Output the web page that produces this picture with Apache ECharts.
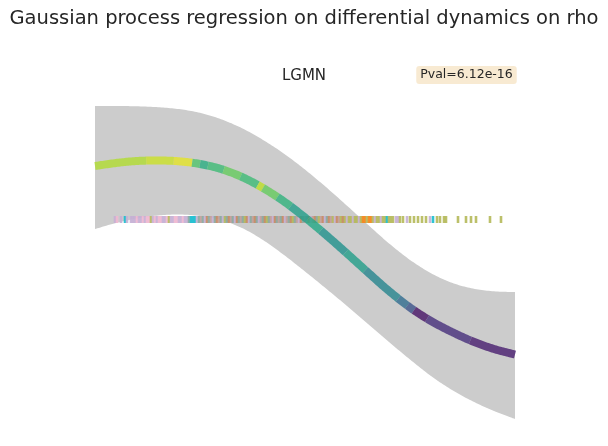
<!DOCTYPE html>
<html>
<head>
<meta charset="utf-8">
<script src="https://cdn.jsdelivr.net/npm/echarts@6/dist/echarts.min.js"></script>
<style>
  html, body { margin: 0; padding: 0; background: #fff; }
  #chart { width: 608px; height: 446px; }
</style>
</head>
<body>
<div id="chart"></div>
<script>
// pseudotime grid where the GP fit was sampled
const fitT = [0, 2.1, 4.2, 6.3, 8.4, 10.5, 12.6, 14.7, 16.8, 18.9, 21, 23.1, 25.2, 27.3, 29.4, 31.5, 33.6, 35.7, 37.8, 39.9, 42]
const fitMean = [1.24, 1.27, 1.29, 1.295, 1.287, 1.26, 1.21, 1.13, 1.02, 0.885, 0.725, 0.55, 0.365, 0.175, -0.01, -0.175, -0.31, -0.42, -0.515, -0.59, -0.645]
const fitUpper = [1.84, 1.84, 1.837, 1.828, 1.809, 1.772, 1.708, 1.618, 1.501, 1.363, 1.204, 1.029, 0.843, 0.652, 0.466, 0.301, 0.168, 0.072, 0.014, -0.013, -0.021]
const fitLower = [0.61, 0.67, 0.715, 0.745, 0.755, 0.74, 0.70, 0.62, 0.50, 0.35, 0.185, 0.015, -0.16, -0.34, -0.52, -0.695, -0.86, -1.0, -1.115, -1.21, -1.29]

// colour of the fitted curve along pseudotime (scaled value 0..1, viridis)
const segBreaks = [0, 5.0, 7.8, 9.7, 10.5, 11.2, 12.8, 14.5, 16.2, 16.8, 18.2, 19.5, 21.2, 22.5, 25.0, 27.0, 30.2, 31.2, 31.8, 33.2, 37.5, 42]
const segValues = [0.88, 0.92, 0.96, 0.72, 0.62, 0.68, 0.76, 0.68, 0.9, 0.76, 0.64, 0.55, 0.6, 0.5, 0.55, 0.45, 0.35, 0.25, 0.05, 0.13, 0.08]

// cells: pseudotime and cluster
const rugLevel = 0.705
const clusterColors = ['#c5b0d5', '#f0b8d0', '#17becf', '#b5b95a', '#f5851a', '#c4a09a', '#88aaa0', '#c98a62']
const rugT = [
  2.0, 2.2, 2.6, 3.0, 3.2, 3.6, 3.8, 4.0, 4.2, 4.4, 4.6, 4.8, 5.0, 5.2, 5.4, 5.6, 5.8, 6.0, 6.2, 6.4,
  6.6, 6.8, 7.0, 7.2, 7.4, 7.6, 7.8, 8.0, 8.2, 8.4, 8.6, 8.8, 9.0, 9.2, 9.4, 9.6, 9.8, 10.0, 10.2, 10.4,
  10.6, 10.8, 11.0, 11.2, 11.4, 11.6, 11.8, 12.0, 12.2, 12.4, 12.6, 12.8, 13.0, 13.2, 13.4, 13.6, 13.8, 14.0, 14.2, 14.4,
  14.6, 14.8, 15.0, 15.2, 15.4, 15.6, 15.8, 16.0, 16.2, 16.4, 16.6, 16.8, 17.0, 17.2, 17.4, 17.6, 17.8, 18.0, 18.2, 18.4,
  18.6, 18.8, 19.0, 19.2, 19.4, 19.6, 19.8, 20.0, 20.2, 20.4, 20.6, 20.8, 21.0, 21.2, 21.4, 21.6, 21.8, 22.0, 22.2, 22.4,
  22.6, 22.8, 23.0, 23.2, 23.4, 23.6, 23.8, 24.0, 24.2, 24.4, 24.6, 24.8, 25.0, 25.2, 25.4, 25.6, 25.8, 26.0,
  26.2, 26.4, 26.6, 26.8, 27.0, 27.2, 27.4, 27.6, 27.8, 28.0, 28.2, 28.4, 28.6, 28.8, 29.0, 29.2, 29.4, 29.6, 29.8,
  30.1, 30.3, 30.5, 30.8, 31.2, 31.5, 31.9, 32.3, 32.7, 33.1, 33.5, 33.8, 34.2, 34.5, 34.9, 35.1, 36.3, 37.1, 37.6, 38.1, 39.5, 40.6
]
const rugType = [
  0, 1, 0, 2, 0, 0, 0, 0, 1, 0, 0, 1, 0, 1, 1, 3, 0, 1, 0, 1,
  1, 0, 0, 1, 3, 0, 0, 1, 1, 0, 0, 1, 0, 0, 6, 2, 2, 2, 0, 6,
  5, 6, 0, 7, 6, 5, 0, 6, 7, 5, 6, 0, 3, 6, 7, 5, 6, 0, 7, 6,
  5, 6, 3, 7, 0, 6, 5, 7, 6, 0, 5, 6, 7, 3, 6, 5, 0, 7, 6, 5,
  6, 7, 0, 5, 6, 7, 3, 6, 5, 0, 7, 6, 5, 6, 7, 0, 5, 7, 6, 3,
  5, 7, 0, 6, 7, 5, 3, 0, 7, 5, 3, 7, 3, 0, 3, 3, 0, 3,
  3, 0, 3, 4, 4, 3, 4, 4, 3, 0, 3, 3, 0, 3, 3, 2, 3, 3, 3,
  0, 0, 3, 3, 0, 3, 3, 3, 3, 3, 0, 2, 3, 3, 3, 3, 3, 3, 3, 3, 3, 3
]

const viridis = ['#440154', '#482475', '#414487', '#355f8d', '#2a788e', '#21918c', '#22a884', '#44bf70', '#7ad151', '#bddf26', '#fde725']
function cmap(v) {
  const p = Math.max(0, Math.min(1, v)) * (viridis.length - 1)
  const i = Math.min(Math.floor(p), viridis.length - 2)
  const f = p - i
  const a = viridis[i], b = viridis[i + 1]
  const ch = k => Math.round(parseInt(a.substr(k, 2), 16) * (1 - f) + parseInt(b.substr(k, 2), 16) * f)
  return 'rgb(' + ch(1) + ',' + ch(3) + ',' + ch(5) + ')'
}

// Catmull-Rom path through the fitted points (drawing only)
function spline(xs, ys, steps) {
  const out = []
  const n = xs.length
  for (let i = 0; i < n - 1; i++) {
    const i0 = Math.max(i - 1, 0), i3 = Math.min(i + 2, n - 1)
    for (let s = 0; s < steps; s++) {
      const u = s / steps, u2 = u * u, u3 = u2 * u
      const f = (p0, p1, p2, p3) => 0.5 * (2 * p1 + (-p0 + p2) * u + (2 * p0 - 5 * p1 + 4 * p2 - p3) * u2 + (-p0 + 3 * p1 - 3 * p2 + p3) * u3)
      out.push([f(xs[i0], xs[i], xs[i + 1], xs[i3]), f(ys[i0], ys[i], ys[i + 1], ys[i3])])
    }
  }
  out.push([xs[n - 1], ys[n - 1]])
  return out
}

function segIndex(t) {
  for (let i = 0; i < segValues.length; i++) if (t < segBreaks[i + 1]) return i
  return segValues.length - 1
}

const chart = echarts.init(document.getElementById('chart'))
const font = '"DejaVu Sans", sans-serif'

chart.setOption({
  animation: false,
  grid: { left: 95, right: 93, top: 100, bottom: 21 },
  xAxis: { type: 'value', min: 0, max: 42, show: false },
  yAxis: { type: 'value', min: -1.35, max: 1.9, show: false },
  series: [
    {
      // confidence band
      type: 'custom',
      z: 1,
      silent: true,
      data: [0],
      renderItem: (params, api) => {
        const up = spline(fitT, fitUpper, 12).map(p => api.coord(p))
        const lo = spline(fitT, fitLower, 12).map(p => api.coord(p)).reverse()
        return { type: 'polygon', shape: { points: up.concat(lo) }, style: { fill: '#cccccc' } }
      }
    },
    {
      // cells along pseudotime
      type: 'custom',
      z: 2,
      silent: true,
      data: rugT.map((t, i) => [t, rugLevel, rugType[i]]),
      renderItem: (params, api) => {
        const c = api.coord([api.value(0), api.value(1)])
        return {
          type: 'rect',
          shape: { x: c[0] - 1.3, y: c[1] - 3.5, width: 2.6, height: 7 },
          style: { fill: clusterColors[api.value(2)], opacity: 0.9 }
        }
      }
    },
    {
      // fitted mean, coloured along pseudotime
      type: 'custom',
      z: 3,
      silent: true,
      data: [0],
      renderItem: (params, api) => {
        const pts = spline(fitT, fitMean, 16)
        const children = []
        let cur = [api.coord(pts[0])]
        let idx = segIndex(pts[0][0])
        for (let k = 1; k < pts.length; k++) {
          const c = api.coord(pts[k])
          cur.push(c)
          const nIdx = k < pts.length - 1 ? segIndex(pts[k][0]) : idx
          if (nIdx !== idx || k === pts.length - 1) {
            children.push({
              type: 'polyline',
              shape: { points: cur },
              style: { stroke: cmap(segValues[idx]), lineWidth: 8, opacity: 0.8, lineCap: 'butt', fill: null }
            })
            cur = [c]
            idx = nIdx
          }
        }
        return { type: 'group', children: children }
      }
    }
  ],
  graphic: [
    {
      type: 'text', x: 304, y: 19,
      style: { text: 'Gaussian process regression on differential dynamics on rho', font: '19.5px ' + font, fill: '#262626', textAlign: 'center', textVerticalAlign: 'middle' }
    },
    {
      type: 'text', x: 304, y: 76,
      style: { text: 'LGMN', font: '15px ' + font, fill: '#262626', textAlign: 'center', textVerticalAlign: 'middle' }
    },
    {
      type: 'text', x: 466.5, y: 75,
      style: {
        text: 'Pval=6.12e-16', font: '12.5px ' + font, fill: '#262626', textAlign: 'center', textVerticalAlign: 'middle',
        backgroundColor: '#f8ead2', padding: [3, 4, 2, 4], borderRadius: 3
      }
    }
  ]
})
</script>
</body>
</html>
